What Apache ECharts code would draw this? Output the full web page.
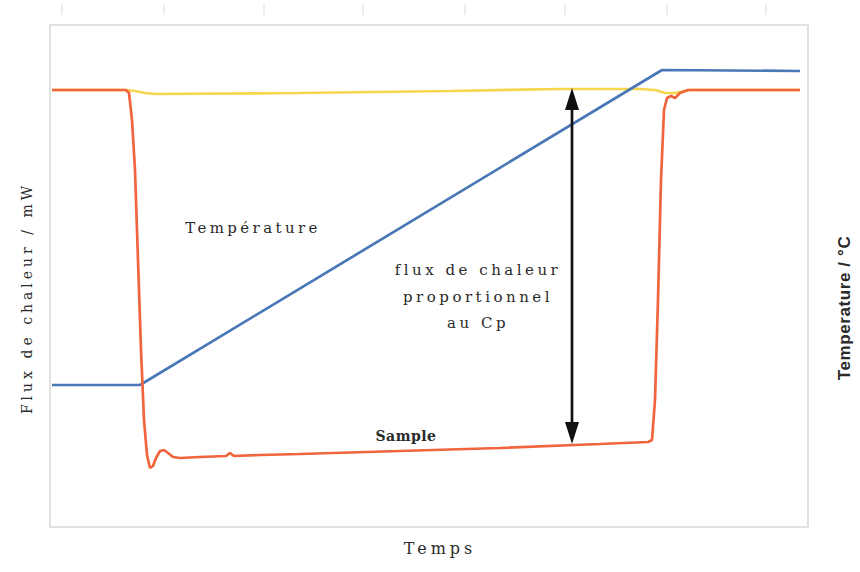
<!DOCTYPE html>
<html>
<head>
<meta charset="utf-8">
<title>DSC</title>
<script src="https://cdn.jsdelivr.net/npm/echarts@6/dist/echarts.min.js"></script>
<style>
  html, body { margin: 0; padding: 0; background: #ffffff; }
  #chart { width: 860px; height: 572px; }
</style>
</head>
<body>
<div id="chart"></div>
<script>
// Sample heat flow (mW) against time (min)
const sampleTime = [0.2, 7.6, 7.9, 8.2, 8.5, 8.8, 9.1, 9.4, 9.7, 10.0, 10.3, 10.6, 11.0, 11.4, 11.8, 12.3,
  13.0, 15.0, 17.6, 18.0, 18.4, 21.0, 25.0, 35.0, 45.0, 55.0, 59.8, 60.2, 60.5, 60.8, 61.1, 61.4,
  61.7, 62.1, 62.5, 63.0, 63.8, 75.0];
const sampleFlow = [43.7, 43.7, 43.4, 40.7, 35.7, 26.7, 17.7, 10.7, 7.2, 5.9, 6.1, 6.9, 7.6, 7.7, 7.4, 7.0,
  6.9, 7.0, 7.1, 7.4, 7.1, 7.2, 7.3, 7.6, 7.9, 8.3, 8.5, 8.7, 12.7, 22.7, 34.7, 41.7,
  42.9, 43.1, 42.9, 43.4, 43.7, 43.7];

// Reference (empty pan) heat flow (mW)
const refTime = [0.2, 7.6, 8.5, 9.5, 10.5, 25.0, 40.0, 51.0, 59.0, 60.5, 61.5, 62.5, 64.0, 75.0];
const refFlow = [43.7, 43.7, 43.6, 43.4, 43.3, 43.4, 43.6, 43.8, 43.8, 43.7, 43.4, 43.4, 43.7, 43.7];

// Programmed temperature (°C)
const tempTime = [0.2, 9.0, 61.2, 75.0];
const tempValue = [71, 71, 228.5, 228];

// Double arrow between baseline and sample: shaft end points (heads centred on them)
const arrowTime = 52.2;
const arrowFlow = [9.4, 42.8];

// Faint ticks above the frame
const topTicks = [1.2, 11.4, 21.4, 31.3, 41.5, 51.5, 61.7, 71.6];

// Text labels
const labelTemp = 'Température';
const labelFlux = ['flux de chaleur', 'proportionnel', 'au Cp'];
const labelSample = 'Sample';
const labelX = 'Temps';
const labelYLeft = 'Flux de chaleur / mW';
const labelYRight = 'Temperature / °C';

const zip = (a, b) => a.map((v, i) => [v, b[i]]);

const serif = '"DejaVu Serif", "Liberation Serif", serif';
const textColor = '#2a2a2a';

const chart = echarts.init(document.getElementById('chart'), null, { renderer: 'svg' });

chart.setOption({
  animation: false,
  backgroundColor: '#ffffff',
  grid: [
    {
      left: 50, right: 52, top: 25, bottom: 45,
      show: true, borderColor: '#e2e2e2', borderWidth: 2,
      backgroundColor: 'transparent'
    },
    { left: 50, right: 52, top: 4, height: 11, show: false }
  ],
  xAxis: [
    { type: 'value', gridIndex: 0, min: 0, max: 75.8, show: false },
    {
      type: 'value', gridIndex: 1, min: 0, max: 75.8, position: 'bottom',
      axisLine: { show: false },
      axisLabel: { show: false },
      splitLine: { show: false },
      axisTick: { show: true, inside: true, length: 11, customValues: topTicks, lineStyle: { color: '#ededed', width: 2 } }
    }
  ],
  yAxis: [
    { type: 'value', gridIndex: 0, min: 0, max: 50.2, show: false },
    { type: 'value', gridIndex: 0, min: 0, max: 251, show: false, position: 'right' },
    { type: 'value', gridIndex: 1, min: 0, max: 1, show: false }
  ],
  series: [
    {
      name: 'Référence', type: 'line', xAxisIndex: 0, yAxisIndex: 0,
      data: zip(refTime, refFlow), showSymbol: false, symbol: 'none',
      lineStyle: { color: '#f6d64c', width: 2.7 }, z: 2
    },
    {
      name: 'Température', type: 'line', xAxisIndex: 0, yAxisIndex: 1,
      data: zip(tempTime, tempValue), showSymbol: false, symbol: 'none',
      lineStyle: { color: '#4a77b6', width: 2.7 }, z: 3
    },
    {
      name: 'Sample', type: 'line', xAxisIndex: 0, yAxisIndex: 0,
      data: zip(sampleTime, sampleFlow), showSymbol: false, symbol: 'none',
      lineStyle: { color: '#f0653d', width: 2.7 }, z: 4
    },
    {
      name: 'Cp', type: 'line', xAxisIndex: 0, yAxisIndex: 0, silent: true,
      data: [
        { value: [arrowTime, arrowFlow[0]], symbolRotate: 180 },
        { value: [arrowTime, arrowFlow[1]], symbolRotate: 0 }
      ],
      symbol: 'triangle', symbolSize: [14, 22], showSymbol: true, showAllSymbol: true,
      itemStyle: { color: '#111111', borderWidth: 0 },
      lineStyle: { color: '#111111', width: 2.7 }, z: 5
    }
  ],
  graphic: [
    { type: 'text', x: 253, y: 228, style: { text: labelTemp, font: '15px ' + serif, fill: textColor, align: 'center', verticalAlign: 'middle' } },
    { type: 'text', x: 478, y: 270, style: { text: labelFlux[0], font: '15px ' + serif, fill: textColor, align: 'center', verticalAlign: 'middle' } },
    { type: 'text', x: 478, y: 297, style: { text: labelFlux[1], font: '15px ' + serif, fill: textColor, align: 'center', verticalAlign: 'middle' } },
    { type: 'text', x: 478, y: 323, style: { text: labelFlux[2], font: '15px ' + serif, fill: textColor, align: 'center', verticalAlign: 'middle' } },
    { type: 'text', x: 406, y: 436, style: { text: labelSample, font: 'bold 14px ' + serif, fill: textColor, align: 'center', verticalAlign: 'middle' } },
    { type: 'text', x: 440, y: 548, style: { text: labelX, font: '16px ' + serif, fill: textColor, align: 'center', verticalAlign: 'middle' } },
    { type: 'text', x: 27, y: 298, rotation: Math.PI / 2, style: { text: labelYLeft, font: '14px ' + serif, fill: textColor, align: 'center', verticalAlign: 'middle' } },
    { type: 'text', x: 844, y: 308, rotation: Math.PI / 2, style: { text: labelYRight, font: 'bold 17px "Liberation Sans", Arial, sans-serif', fill: textColor, align: 'center', verticalAlign: 'middle' } }
  ]
});

// Wide tracking on the annotations
const tracking = {};
tracking[labelTemp] = 3.4;
labelFlux.forEach(t => { tracking[t] = 3.5; });
tracking[labelX] = 4;
tracking[labelYLeft] = 4;
tracking[labelSample] = 0.5;
tracking[labelYRight] = 0.6;

function applyTracking() {
  chart.getDom().querySelectorAll('text').forEach(el => {
    const s = tracking[el.textContent];
    if (s != null) el.style.letterSpacing = s + 'px';
  });
}
chart.on('finished', applyTracking);
applyTracking();
</script>
</body>
</html>
